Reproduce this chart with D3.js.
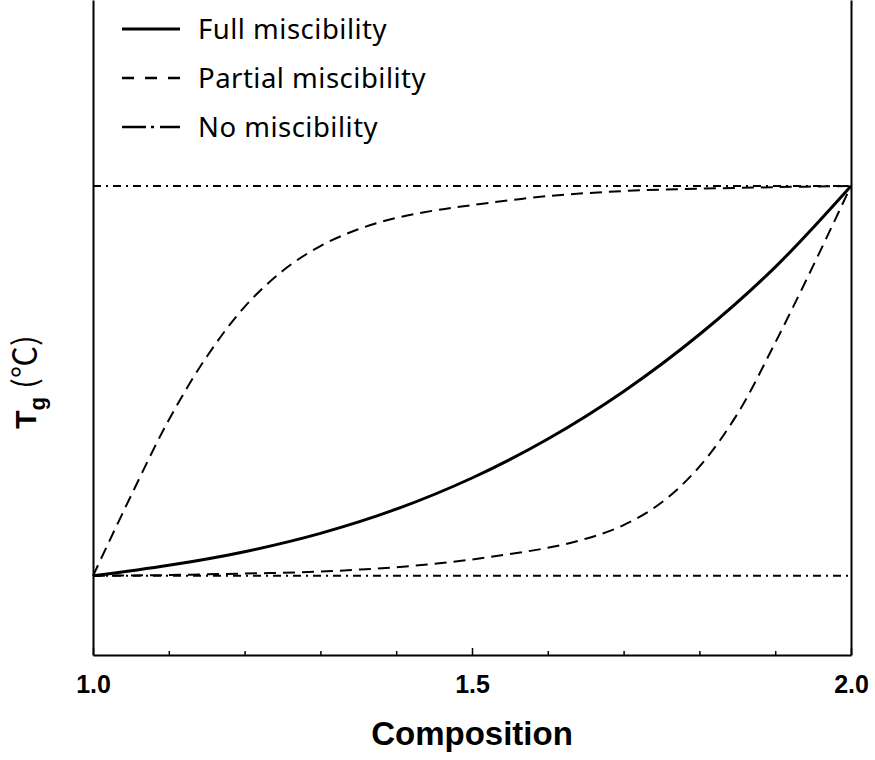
<!DOCTYPE html>
<html>
<head>
<meta charset="utf-8">
<script src="https://cdn.jsdelivr.net/npm/d3@7"></script>
<style>
  body { margin: 0; background: #fff; }
  svg { display: block; }
</style>
</head>
<body>
<svg id="chart" width="875" height="760"></svg>
<script>
// Glass transition temperature of a binary blend vs. composition,
// normalised so that Tg of component 1 = 0 and Tg of component 2 = 1.

// Full miscibility: single Tg between the two pure components
const fullComp = [1.0, 1.1, 1.2, 1.3, 1.4, 1.5, 1.6, 1.7, 1.8, 1.9, 2.0];
const fullTg   = [0.000, 0.027, 0.062, 0.109, 0.171, 0.251, 0.351, 0.473, 0.619, 0.792, 1.000];

// Partial miscibility: two shifted Tg branches
const partialHighComp = [1.0, 1.05, 1.1, 1.15, 1.2, 1.25, 1.3, 1.35, 1.4, 1.45, 1.5, 1.6, 1.7, 1.8, 1.9, 2.0];
const partialHighTg   = [0.000, 0.205, 0.400, 0.562, 0.690, 0.782, 0.846, 0.889, 0.918, 0.937, 0.951, 0.974, 0.987, 0.993, 0.997, 1.000];

const partialLowComp = [1.0, 1.05, 1.1, 1.15, 1.2, 1.25, 1.3, 1.35, 1.4, 1.45, 1.5, 1.55, 1.6, 1.65, 1.7, 1.75, 1.8, 1.85, 1.9, 1.95, 2.0];
const partialLowTg   = [0.000, 0.001, 0.002, 0.004, 0.006, 0.008, 0.011, 0.016, 0.022, 0.031, 0.042, 0.056, 0.072, 0.095, 0.130, 0.188, 0.280, 0.415, 0.598, 0.795, 1.000];

// No miscibility: both pure-component Tg values persist
const noneComp   = [1.0, 2.0];
const noneLowTg  = [0, 0];
const noneHighTg = [1, 1];

const majorTicks = [1.0, 1.5, 2.0];
const majorTickLabels = ["1.0", "1.5", "2.0"];
const minorTicks = [1.1, 1.2, 1.3, 1.4, 1.6, 1.7, 1.8, 1.9];

const legendLabels = ["Full miscibility", "Partial miscibility", "No miscibility"];
const xTitle = "Composition";

const DASH = "12,7";
const DASHDOT = "8,5,2,5";

const svg = d3.select("#chart");

const x = d3.scaleLinear().domain([1, 2]).range([93, 851]);
const y = d3.scaleLinear().domain([-0.203, 1.477]).range([655, 0]);

const zip = (a, b) => a.map((v, i) => [v, b[i]]);
const line = d3.line()
  .x(d => x(d[0]))
  .y(d => y(d[1]))
  .curve(d3.curveCatmullRom.alpha(0.5));

// Frame: left and right verticals
const frameL = svg.append("g").attr("transform", "translate(93,0)")
  .call(d3.axisLeft(y).tickValues([]).tickSizeOuter(0));
const frameR = svg.append("g").attr("transform", "translate(851,0)")
  .call(d3.axisRight(y).tickValues([]).tickSizeOuter(0));
[frameL, frameR].forEach(g => g.select(".domain").attr("stroke", "#000").attr("stroke-width", 2));

// Bottom axis: minor ticks (inward, unlabeled)
const gMinor = svg.append("g").attr("transform", "translate(0,655)")
  .call(d3.axisBottom(x).tickValues(minorTicks).tickSize(-4).tickSizeOuter(0).tickFormat(""));
gMinor.select(".domain").remove();
gMinor.selectAll(".tick line").attr("stroke", "#000").attr("stroke-width", 1.5);

// Bottom axis: major ticks with labels
const gMajor = svg.append("g").attr("transform", "translate(0,655)")
  .call(d3.axisBottom(x).tickValues(majorTicks).tickSize(-7).tickSizeOuter(0).tickPadding(20)
    .tickFormat((d, i) => majorTickLabels[i]));
gMajor.attr("font-family", "'Liberation Sans', Arial, sans-serif").attr("font-size", 25);
gMajor.select(".domain").attr("stroke", "#000").attr("stroke-width", 2);
gMajor.selectAll(".tick line").attr("stroke", "#000").attr("stroke-width", 1.5);
gMajor.selectAll(".tick text")
  .attr("fill", "#000")
  .style("font-family", "'Liberation Sans', Arial, sans-serif")
  .style("font-weight", "bold")
  .style("font-size", "25px");

// Curves
const curves = svg.append("g").attr("fill", "none").attr("stroke", "#000");

curves.append("path").datum(zip(noneComp, noneLowTg))
  .attr("d", line).attr("stroke-width", 2).attr("stroke-dasharray", DASHDOT);
curves.append("path").datum(zip(noneComp, noneHighTg))
  .attr("d", line).attr("stroke-width", 2).attr("stroke-dasharray", DASHDOT);

curves.append("path").datum(zip(partialHighComp, partialHighTg))
  .attr("d", line).attr("stroke-width", 2).attr("stroke-dasharray", DASH);
curves.append("path").datum(zip(partialLowComp, partialLowTg))
  .attr("d", line).attr("stroke-width", 2).attr("stroke-dasharray", DASH);

curves.append("path").datum(zip(fullComp, fullTg))
  .attr("d", line).attr("stroke-width", 3);

// Legend
const legendStyles = [
  { dash: null, width: 3 },
  { dash: "12,11", width: 2.5 },
  { dash: "24,5,3,6,20,60", width: 2.5 }
];
const legend = svg.append("g").attr("transform", "translate(122,29)");
legendLabels.forEach((lab, i) => {
  const row = legend.append("g").attr("transform", `translate(0,${i * 49})`);
  row.append("line")
    .attr("x1", 0).attr("x2", 58).attr("y1", 0).attr("y2", 0)
    .attr("stroke", "#000").attr("stroke-width", legendStyles[i].width)
    .attr("stroke-dasharray", legendStyles[i].dash);
  row.append("text")
    .attr("x", 76).attr("y", 9.5)
    .attr("fill", "#000")
    .style("font-family", "'Noto Sans', sans-serif")
    .style("font-size", "27.5px")
    .style("letter-spacing", "0.5px")
    .text(lab);
});

// Axis titles
svg.append("text")
  .attr("x", 472).attr("y", 745)
  .attr("text-anchor", "middle")
  .attr("fill", "#000")
  .style("font-family", "'Liberation Sans', Arial, sans-serif")
  .style("font-weight", "bold")
  .style("font-size", "33px")
  .text(xTitle);

const yTitle = svg.append("text")
  .attr("transform", "translate(36,382) rotate(-90)")
  .attr("text-anchor", "middle")
  .attr("fill", "#000")
  .style("font-family", "'Liberation Sans', Arial, sans-serif");
yTitle.append("tspan").style("font-weight", "bold").style("font-size", "30px").text("T");
yTitle.append("tspan").style("font-weight", "bold").style("font-size", "22px").attr("dy", 9).text("g");
yTitle.append("tspan").attr("dy", -9).attr("dx", 8).style("font-size", "32px")
  .style("font-family", "'Noto Sans CJK KR', 'Noto Sans CJK SC', sans-serif").text("(℃)");
</script>
</body>
</html>
